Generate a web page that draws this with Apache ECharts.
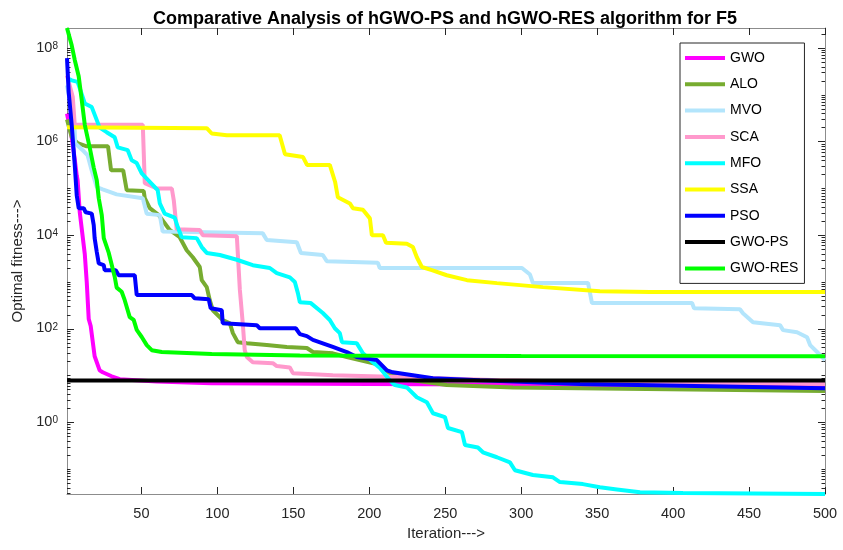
<!DOCTYPE html>
<html><head><meta charset="utf-8">
<script src="https://cdn.jsdelivr.net/npm/echarts@6/dist/echarts.min.js"></script>
<style>html,body{margin:0;padding:0;background:#fff}#c{width:843px;height:550px}</style>
</head><body><div id="c"></div>
<script>
const titleText = 'Comparative Analysis of hGWO-PS and hGWO-RES algorithm for F5';
const seriesNames = ['GWO','ALO','MVO','SCA','MFO','SSA','PSO','GWO-PS','GWO-RES'];
const seriesColors = ['#FF00FF','#77AC30','#B3E5FC','#FF99CC','#00FFFF','#FFFF00','#0000FF','#000000','#00FF00'];

const gwo = [[1,4e6],[4,1.3e6],[6,4.5e5],[7.4,1.9e5],[8,1.5e5],[9.4,3.1e4],[12.7,4.0e3],[14,1.0e3],[15.3,162],[16.6,115],[19.2,26],[22.5,13],[24.5,11.8],[30.4,9.7],[35.7,8.4],[60,7.5],[96,6.9],[200,6.6],[350,6.3],[500,6.1]];
const alo = [[1,3e6],[4.1,1.25e6],[8,9.3e5],[14,8.0e5],[28,8.0e5],[30,2.45e5],[38,2.45e5],[40.3,9.2e4],[51.5,8.8e4],[52.2,6.2e4],[55.5,3.8e4],[61.4,2.7e4],[68.6,1.3e4],[75.2,9.1e3],[79.8,4.8e3],[83.8,3.4e3],[88.4,2.1e3],[89.7,1.1e3],[93,780],[95,410],[97,250],[103.5,155],[108.2,132],[110.2,81],[113.4,52],[119.4,49],[132.5,45],[145.7,41],[158.9,39],[162.9,32],[176,30],[185.2,25],[206.9,17],[213.5,11.3],[228.7,8.0],[251,6.3],[294.6,5.6],[338.7,5.4],[500,4.7]];
const mvo = [[1,1.6e7],[4.1,4.7e6],[6.1,1.7e6],[6.4,9.3e5],[11.3,6.6e5],[14.6,5.1e5],[17.3,2.4e5],[20.6,1.07e5],[24.5,9.6e4],[33.7,7.5e4],[50.9,6.2e4],[53.5,2.9e4],[62.1,2.7e4],[64,1.2e4],[129.9,1.1e4],[132.5,7.9e3],[152.3,7.1e3],[155,4.2e3],[169.4,3.8e3],[172,2.8e3],[205.6,2.6e3],[206.9,2.0e3],[300.5,2.0e3],[305.8,1.45e3],[307.7,960],[344,960],[346.6,356],[412.5,356],[413.8,275],[444,263],[446,215],[452.6,139],[470.4,120],[472.4,94],[481.6,85],[488.2,66],[490.2,45],[494.8,32],[500,21.5]];
const sca = [[1,2.6e7],[4.8,9e6],[6.1,2.3e6],[50.9,2.3e6],[52.2,1.3e5],[60.1,1.0e5],[70,1.0e5],[71.3,5.6e4],[73.2,1.35e4],[88.4,1.3e4],[90.4,1.0e4],[112.8,9.6e3],[114.8,680],[116.7,132],[118,35],[119.4,25],[123.3,19.4],[136.5,18.5],[139.1,16],[147.7,15],[149.7,11.3],[176,10.2],[220,9.3],[286,8.0],[352,7.3],[500,6.6]];
const mfo = [[1,2.3e7],[4.1,2.05e7],[8,1.9e7],[12.7,6.6e6],[17.3,5.5e6],[22.5,2.0e6],[27.1,1.6e6],[32.4,1.25e6],[34.4,7.6e5],[41,6.6e5],[43.6,4.0e5],[46.9,3.5e5],[50.2,2.1e5],[57.4,1.2e5],[60.7,9.2e4],[62.1,4.8e4],[65.3,2.9e4],[71.9,2.4e4],[73.9,1.5e4],[76.5,9.1e3],[86.4,8.7e3],[89.7,5.6e3],[93,4.2e3],[101.6,3.8e3],[112.8,3.0e3],[123.3,2.3e3],[134.5,2.0e3],[139.1,1.55e3],[147.7,1.26e3],[151,1.0e3],[153,580],[154.3,370],[161.5,355],[169.4,218],[174,155],[177.3,103],[180.6,81],[182,52],[191.8,49],[195.8,30],[202.4,19.4],[207,14.5],[213.5,8.0],[216.8,6.3],[224.7,5.6],[231.3,3.45],[237.9,2.7],[241.9,1.57],[249.8,1.3],[251.8,0.76],[261,0.62],[263,0.33],[271.5,0.29],[274.8,0.23],[284,0.18],[292.6,0.14],[295.9,0.095],[307.7,0.075],[320.9,0.067],[325.5,0.053],[340.6,0.048],[351.8,0.041],[363,0.037],[378.2,0.032],[406.5,0.031],[500,0.0295]];
const ssa = [[1,2.04e6],[93,1.95e6],[96.3,1.5e6],[106.2,1.38e6],[141,1.38e6],[144.5,5.4e5],[156.4,4.7e5],[159,3.2e5],[174,3.2e5],[177.5,1.38e5],[179.3,6.5e4],[187.2,4.8e4],[189.2,3.8e4],[195.8,3.5e4],[200.4,2.3e4],[201.7,1.0e4],[209,1.0e4],[211,6.9e3],[224.7,6.6e3],[228.7,5.6e3],[231.3,3.4e3],[234.6,2.1e3],[241.2,1.8e3],[251,1.4e3],[264.3,1.1e3],[284,950],[314.3,780],[351.8,640],[384.8,610],[500,610]];
const pso = [[1,6.1e7],[2.1,1.15e7],[4.1,2.3e6],[6.1,3.2e5],[7.4,7.2e4],[8.7,3.8e4],[12,3.8e4],[13.3,3.1e4],[17.3,2.9e4],[18.6,1.65e4],[19.2,8.7e3],[20.6,4.4e3],[21.9,2.5e3],[25.2,2.3e3],[25.8,1.8e3],[33.1,1.8e3],[35,1.4e3],[45.6,1.4e3],[46.9,530],[83.1,530],[85.1,450],[94.3,430],[95.6,275],[102.9,250],[103.5,132],[125.9,120],[127.9,103],[151.6,103],[154.3,77],[158.9,70],[162.9,58],[169.4,49],[176,41],[185.2,32],[191.8,25],[205,21.5],[211.6,13],[215.5,11.8],[228.7,10.2],[241.9,8.8],[272.8,8.0],[338.7,6.6],[500,5.4]];
const gwoPs = [[1,7.9],[500,7.9]];
const gwoRes = [[1,2.7e8],[4.1,1.15e8],[6.1,5.6e7],[8.7,2.5e7],[10.7,7.8e6],[12.7,2.3e6],[16,7.4e5],[18.6,2.8e5],[20.6,1.5e5],[21.9,6.2e4],[23.9,2.7e4],[25.2,8.7e3],[28.5,4.2e3],[32.4,1.3e3],[33.7,760],[37,620],[39,410],[42.3,178],[44.9,155],[46.9,95],[50.2,67],[53.5,45],[56.8,35],[63.4,32],[96.3,29],[154.3,27],[300,26.3],[500,26]];

const xTicks = [50,100,150,200,250,300,350,400,450,500];
const yLabelExps = [0,2,4,6,8];
const xMin = 1, xMax = 500, yMin = 0.0295, yMax = 2.7e8;

const allData = [gwo, alo, mvo, sca, mfo, ssa, pso, gwoPs, gwoRes];
const yMajor = yLabelExps.map(e => Math.pow(10, e));
const yMinor = [];
for (let n = -2; n <= 8; n++) for (let k = 1; k <= 9; k++) {
  const v = k * Math.pow(10, n);
  if (v >= yMin && v <= yMax && !(k === 1 && n % 2 === 0)) yMinor.push(v);
}

const axisCol = '#8c8c8c', tickCol = '#262626', txtCol = '#262626';
const FONT = 'Liberation Sans, Arial, Helvetica, sans-serif';

function yAx(pos, ticks, len, showLabel, showLine) {
  return {
    type: 'log', logBase: 10, min: yMin, max: yMax, position: pos,
    axisLine: {show: showLine, lineStyle: {color: axisCol, width: 1}},
    axisTick: {show: true, inside: true, length: len, customValues: ticks, lineStyle: {color: tickCol, width: 1}},
    axisLabel: showLabel ? {
      show: true, customValues: yMajor, margin: 9, fontFamily: FONT,
      formatter: v => '{b|10}{s|' + Math.round(Math.log10(v)) + '}',
      rich: {
        b: {fontSize: 14.5, color: txtCol, fontFamily: FONT, lineHeight: 14, verticalAlign: 'bottom', padding: [6,0,0,0]},
        s: {fontSize: 10, color: txtCol, fontFamily: FONT, lineHeight: 10, verticalAlign: 'top'}
      }
    } : {show: false},
    splitLine: {show: false}, minorTick: {show: false}, minorSplitLine: {show: false}
  };
}
function xAx(pos, showLabel) {
  return {
    type: 'value', min: xMin, max: xMax, position: pos,
    axisLine: {show: true, onZero: false, lineStyle: {color: axisCol, width: 1}},
    axisTick: {show: true, inside: true, length: 7, customValues: xTicks, lineStyle: {color: tickCol, width: 1}},
    axisLabel: showLabel ? {show: true, customValues: xTicks, margin: 12, fontSize: 14.5, color: txtCol, fontFamily: FONT} : {show: false},
    splitLine: {show: false}
  };
}

const xAxes = [xAx('bottom', true), xAx('top', false)];
xAxes[0].name = 'Iteration--->';
xAxes[0].nameLocation = 'middle';
xAxes[0].nameGap = 26;
xAxes[0].nameTextStyle = {fontSize: 15, color: txtCol, fontFamily: FONT};

const yAxes = [yAx('left', yMajor, 7, true, true), yAx('left', yMinor, 3.5, false, false),
               yAx('right', yMajor, 7, false, true), yAx('right', yMinor, 3.5, false, false)];
yAxes[0].name = 'Optimal fitness--->';
yAxes[0].nameLocation = 'middle';
yAxes[0].nameGap = 35;
yAxes[0].nameTextStyle = {fontSize: 15, color: txtCol, fontFamily: FONT};

const chart = echarts.init(document.getElementById('c'), null, {renderer: 'canvas'});
chart.setOption({
  animation: false,
  backgroundColor: '#fff',
  title: {text: titleText, left: 440, textAlign: 'center', top: 5,
          textStyle: {fontSize: 18, fontWeight: 'bold', color: '#000', fontFamily: FONT}},
  grid: {left: 67, right: 18, top: 28, bottom: 56, containLabel: false},
  legend: {
    orient: 'vertical', left: 680, top: 43, data: seriesNames,
    backgroundColor: '#fff', borderColor: '#262626', borderWidth: 1,
    padding: [7, 6, 7, 5], itemWidth: 40, itemHeight: 4, itemGap: 10.3,
    icon: 'rect',
    textStyle: {fontSize: 14, color: '#000', fontFamily: FONT, lineHeight: 16}
  },
  xAxis: xAxes,
  yAxis: yAxes,
  series: seriesNames.map((n, i) => ({
    name: n, type: 'line', data: allData[i], xAxisIndex: 0, yAxisIndex: 0,
    showSymbol: false, symbol: 'none', clip: true,
    itemStyle: {color: seriesColors[i]},
    lineStyle: {color: seriesColors[i], width: 4}
  }))
});
</script></body></html>
